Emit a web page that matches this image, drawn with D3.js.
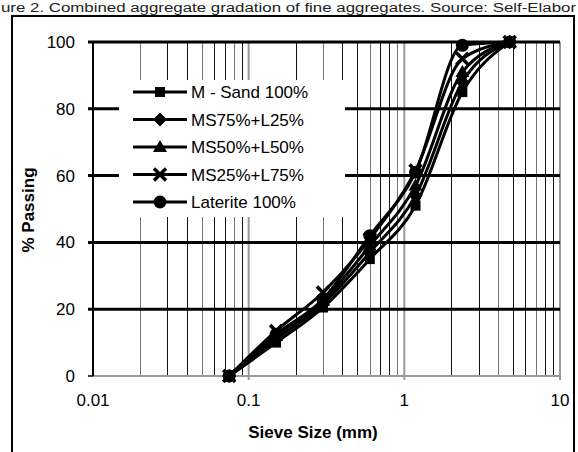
<!doctype html>
<html lang='en'>
<head>
<meta charset='UTF-8'>
<title>Gradation</title>
<style>
  body { margin: 0; background: #fff; }
  svg { display: block; font-family: 'Liberation Sans', Arial, sans-serif; }
</style>
</head>
<body>
<script src='https://cdnjs.cloudflare.com/ajax/libs/d3/7.8.5/d3.min.js'></script>
<script>
  // sieve sizes (mm) and % passing for each blend
  const sieves = [0.075, 0.15, 0.3, 0.6, 1.18, 2.36, 4.75]
  const mSand = [0, 10, 20.5, 35, 51, 85, 100]
  const ms75 = [0, 11, 21.5, 37, 54, 88, 100]
  const ms50 = [0, 12, 22.5, 39, 57, 91, 100]
  const ms25 = [0, 13.5, 25, 41, 61.5, 95, 100]
  const laterite = [0, 12.5, 23, 42, 61, 99, 100]
  const seriesNames = ['M - Sand 100%', 'MS75%+L25%', 'MS50%+L50%', 'MS25%+L75%', 'Laterite 100%']
  const xTicks = [0.01, 0.1, 1, 10]
  const yTicks = [0, 20, 40, 60, 80, 100]

  const W = 578, H = 452
  const pLeft = 93, pRight = 560, pTop = 42, pBottom = 376

  const svg = d3.select('body').append('svg').attr('width', W).attr('height', H)

  // caption (the source image cuts it at the left)
  svg.append('text').attr('x', 1).attr('y', 12)
    .attr('font-size', 12).attr('fill', '#222')
    .attr('textLength', 575).attr('lengthAdjust', 'spacingAndGlyphs')
    .text('ure 2. Combined aggregate gradation of fine aggregates. Source: Self-Elabor')

  // outer frame
  svg.append('rect').attr('x', 12).attr('y', 16).attr('width', 562).attr('height', 460)
    .attr('fill', 'none').attr('stroke', '#000').attr('stroke-width', 2)

  const x = d3.scaleLog().domain([0.01, 10]).range([pLeft, pRight])
  const y = d3.scaleLinear().domain([0, 100]).range([pBottom, pTop])

  // vertical grid: minor black, decades grey
  const minor = []
  for (let d = 0.01; d < 10; d *= 10) {
    for (let k = 2; k <= 9; k++) minor.push(+(d * k).toPrecision(3))
  }
  svg.append('g').selectAll('line').data(minor).enter().append('line')
    .attr('x1', d => Math.round(x(d)) + 0.5).attr('x2', d => Math.round(x(d)) + 0.5)
    .attr('y1', pTop).attr('y2', pBottom)
    .attr('stroke', (d, i) => (i % 3 === 0 ? '#777' : '#111')).attr('stroke-width', 1)
  svg.append('g').selectAll('line').data([0.1, 1, 10]).enter().append('line')
    .attr('x1', d => x(d)).attr('x2', d => x(d))
    .attr('y1', pTop).attr('y2', pBottom + 4)
    .attr('stroke', '#999').attr('stroke-width', 2)

  // horizontal grid
  svg.append('g').selectAll('line').data(yTicks.filter(d => d > 0)).enter().append('line')
    .attr('x1', pLeft - 5).attr('x2', pRight)
    .attr('y1', d => y(d)).attr('y2', d => y(d))
    .attr('stroke', '#000').attr('stroke-width', 3)

  // axes
  svg.append('line').attr('x1', pLeft).attr('x2', pRight + 1).attr('y1', pBottom).attr('y2', pBottom)
    .attr('stroke', '#999').attr('stroke-width', 2)
  svg.append('line').attr('x1', pLeft).attr('x2', pLeft).attr('y1', pTop - 1).attr('y2', pBottom)
    .attr('stroke', '#000').attr('stroke-width', 2)
  svg.append('line').attr('x1', pLeft - 5).attr('x2', pLeft).attr('y1', pBottom).attr('y2', pBottom)
    .attr('stroke', '#000').attr('stroke-width', 1.5)

  svg.append('g').selectAll('text').data(yTicks).enter().append('text')
    .attr('x', 75).attr('y', d => y(d) + 6)
    .attr('text-anchor', 'end').attr('font-size', 17).text(d => d)
  svg.append('g').selectAll('text').data(xTicks).enter().append('text')
    .attr('x', d => x(d)).attr('y', 406)
    .attr('text-anchor', 'middle').attr('font-size', 17).text(d => d)

  svg.append('text').attr('x', 313).attr('y', 438).attr('text-anchor', 'middle')
    .attr('font-size', 17).attr('font-weight', 'bold').text('Sieve Size (mm)')
  svg.append('text').attr('transform', 'translate(34,210) rotate(-90)').attr('text-anchor', 'middle')
    .attr('font-size', 17).attr('font-weight', 'bold').text('% Passing')

  // series
  const allSeries = [mSand, ms75, ms50, ms25, laterite]
  const markers = ['square', 'diamond', 'triangle', 'x', 'circle']

  const drawMarker = function(g, type, cx, cy) {
    if (type === 'square') {
      g.append('rect').attr('x', cx - 5).attr('y', cy - 5).attr('width', 10).attr('height', 10).attr('fill', '#000')
    } else if (type === 'diamond') {
      g.append('path').attr('d', `M${cx},${cy - 7}L${cx + 7},${cy}L${cx},${cy + 7}L${cx - 7},${cy}Z`).attr('fill', '#000')
    } else if (type === 'triangle') {
      g.append('path').attr('d', `M${cx},${cy - 7}L${cx + 7},${cy + 5}L${cx - 7},${cy + 5}Z`).attr('fill', '#000')
    } else if (type === 'x') {
      g.append('path').attr('d', `M${cx - 6},${cy - 6}L${cx + 6},${cy + 6}M${cx + 6},${cy - 6}L${cx - 6},${cy + 6}`)
        .attr('stroke', '#000').attr('stroke-width', 3.5)
    } else {
      g.append('circle').attr('cx', cx).attr('cy', cy).attr('r', 6.5).attr('fill', '#000')
    }
  }

  const line = d3.line().x(d => x(d[0])).y(d => y(d[1])).curve(d3.curveMonotoneX)

  allSeries.forEach((vals, si) => {
    const pts = sieves.map((s, i) => [s, vals[i]])
    const g = svg.append('g')
    g.append('path').attr('d', line(pts)).attr('fill', 'none')
      .attr('stroke', '#000').attr('stroke-width', 3)
    pts.forEach(p => drawMarker(g, markers[si], x(p[0]), y(p[1])))
  })

  // legend
  const lg = svg.append('g')
  lg.append('rect').attr('x', 119).attr('y', 80).attr('width', 226).attr('height', 137).attr('fill', '#fff')
  seriesNames.forEach((name, i) => {
    const ly = 92 + i * 27.5
    lg.append('line').attr('x1', 133).attr('x2', 187).attr('y1', ly).attr('y2', ly)
      .attr('stroke', '#000').attr('stroke-width', 3)
    drawMarker(lg, markers[i], 160, ly)
    lg.append('text').attr('x', 191).attr('y', ly + 6).attr('font-size', 17).text(name)
  })
</script>
</body>
</html>
